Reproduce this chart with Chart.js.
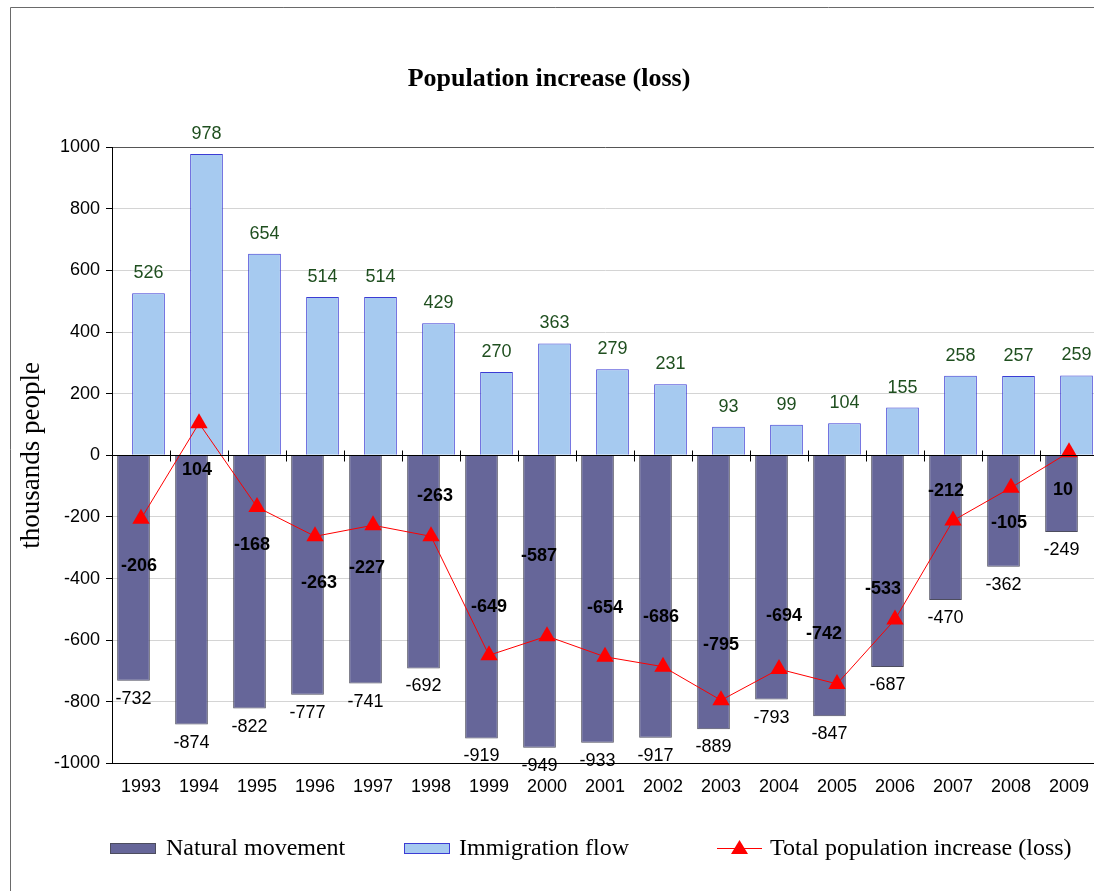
<!DOCTYPE html>
<html>
<head>
<meta charset="utf-8">
<script src="https://cdn.jsdelivr.net/npm/chart.js@4/dist/chart.umd.min.js"></script>
<style>
  html, body { margin: 0; padding: 0; background: #fff; overflow: hidden; }
  #c { display: block; }
</style>
</head>
<body>
<canvas id="c" width="1100" height="891" style="width:1100px;height:891px"></canvas>
<script>
const years = ['1993','1994','1995','1996','1997','1998','1999','2000','2001','2002','2003','2004','2005','2006','2007','2008','2009'];
const naturalMovement = [-732,-874,-822,-777,-741,-692,-919,-949,-933,-917,-889,-793,-847,-687,-470,-362,-249];
const immigrationFlow = [526,978,654,514,514,429,270,363,279,231,93,99,104,155,258,257,259];
const totalIncrease = [-206,104,-168,-263,-227,-263,-649,-587,-654,-686,-795,-694,-742,-533,-212,-105,10];
const seriesNames = ['Natural movement','Immigration flow','Total population increase (loss)'];
const chartTitle = 'Population increase (loss)';
const yAxisTitle = 'thousands people';

const SANS = '"Liberation Sans", Arial, sans-serif';
const SERIF = '"Liberation Serif", "Times New Roman", serif';
const C_NAT = '#666699', C_NAT_B = '#4d4d5e';
const C_IMM = '#a6caf0', C_IMM_B = '#3c3cd4';
const C_TOT = '#ff0000';
const C_IMM_LBL = '#1f4f1f';

// label offsets for the total series (relative to point)
const totalLabelOffsets = [[-2,47],[-2,47],[-5,38],[4,47],[-6,43],[4,-40],[0,-48],[-8,-80],[0,-49],[-2,-50],[0,-55],[5,-53],[-13,-50],[-12,-30],[-7,-30],[-2,35],[-6,38]];

const framePlugin = {
  id: 'frame',
  beforeDraw(chart) {
    const ctx = chart.ctx;
    ctx.save();
    ctx.fillStyle = '#fff';
    ctx.fillRect(0, 0, chart.width, chart.height);
    ctx.strokeStyle = '#6a6a6a';
    ctx.lineWidth = 1;
    ctx.beginPath();
    ctx.moveTo(10.5, chart.height + 2);
    ctx.lineTo(10.5, 7.5);
    ctx.lineTo(chart.width + 2, 7.5);
    ctx.stroke();
    ctx.restore();
  }
};

const zeroAxisPlugin = {
  id: 'zeroAxis',
  afterDatasetsDraw(chart) {
    const ctx = chart.ctx;
    const x = chart.scales.x, y = chart.scales.y;
    const y0 = Math.round(y.getPixelForValue(0)) + 0.5;
    ctx.save();
    ctx.strokeStyle = '#000';
    ctx.lineWidth = 1;
    ctx.beginPath();
    ctx.moveTo(chart.chartArea.left, y0);
    ctx.lineTo(chart.chartArea.right, y0);
    const n = years.length;
    for (let i = 0; i < n - 1; i++) {
      const xb = Math.round((x.getPixelForValue(i) + x.getPixelForValue(i + 1)) / 2) + 0.5;
      ctx.moveTo(xb, y0 - 5);
      ctx.lineTo(xb, y0 + 6);
    }
    ctx.stroke();
    ctx.restore();
  }
};

const labelPlugin = {
  id: 'valueLabels',
  afterDraw(chart) {
    const ctx = chart.ctx;
    ctx.save();
    ctx.textAlign = 'center';
    ctx.textBaseline = 'middle';
    const m0 = chart.getDatasetMeta(0);
    ctx.font = '18px ' + SANS;
    ctx.fillStyle = '#000';
    m0.data.forEach((el, i) => {
      ctx.fillText(String(naturalMovement[i]), el.x, el.y + 18);
    });
    const m1 = chart.getDatasetMeta(1);
    ctx.fillStyle = C_IMM_LBL;
    m1.data.forEach((el, i) => {
      ctx.fillText(String(immigrationFlow[i]), el.x, el.y - 20);
    });
    const m2 = chart.getDatasetMeta(2);
    ctx.font = 'bold 18px ' + SANS;
    ctx.fillStyle = '#000';
    m2.data.forEach((el, i) => {
      const o = totalLabelOffsets[i];
      ctx.fillText(String(totalIncrease[i]), el.x + o[0], el.y + o[1]);
    });
    ctx.restore();
  }
};

const legendPlugin = {
  id: 'customLegend',
  afterDraw(chart) {
    const ctx = chart.ctx;
    const cy = 849;
    ctx.save();
    ctx.font = '24px ' + SERIF;
    ctx.textBaseline = 'middle';
    ctx.textAlign = 'left';
    ctx.fillStyle = C_NAT; ctx.fillRect(110, 843, 45, 10);
    ctx.strokeStyle = C_NAT_B; ctx.lineWidth = 1; ctx.strokeRect(110.5, 843.5, 45, 10);
    ctx.fillStyle = '#000'; ctx.fillText(seriesNames[0], 166, cy);
    ctx.fillStyle = C_IMM; ctx.fillRect(404, 843, 45, 10);
    ctx.strokeStyle = C_IMM_B; ctx.strokeRect(404.5, 843.5, 45, 10);
    ctx.fillStyle = '#000'; ctx.fillText(seriesNames[1], 459, cy);
    ctx.strokeStyle = C_TOT; ctx.lineWidth = 1;
    ctx.beginPath(); ctx.moveTo(717, 848.5); ctx.lineTo(762, 848.5); ctx.stroke();
    ctx.fillStyle = C_TOT;
    ctx.beginPath(); ctx.moveTo(739.5, 840); ctx.lineTo(748, 854); ctx.lineTo(731, 854); ctx.closePath(); ctx.fill();
    ctx.fillStyle = '#000'; ctx.fillText(seriesNames[2], 770, cy);
    ctx.restore();
  }
};

new Chart(document.getElementById('c'), {
  type: 'bar',
  data: {
    labels: years,
    datasets: [
      {
        label: seriesNames[0],
        data: naturalMovement,
        backgroundColor: C_NAT,
        borderColor: C_NAT_B,
        borderWidth: 1,
        categoryPercentage: 0.517,
        barPercentage: 2.18,
        order: 2
      },
      {
        label: seriesNames[1],
        data: immigrationFlow,
        backgroundColor: C_IMM,
        borderColor: C_IMM_B,
        borderWidth: 1,
        categoryPercentage: 0.517,
        barPercentage: 2.18,
        order: 2
      },
      {
        type: 'line',
        label: seriesNames[2],
        data: totalIncrease,
        borderColor: C_TOT,
        backgroundColor: C_TOT,
        borderWidth: 1,
        pointStyle: 'triangle',
        pointRadius: 10,
        pointBorderWidth: 0,
        pointBackgroundColor: C_TOT,
        tension: 0,
        clip: false,
        order: 0
      }
    ]
  },
  options: {
    responsive: false,
    animation: false,
    layout: { autoPadding: false, padding: { left: 0, right: 2, top: 0, bottom: 80 } },
    plugins: {
      legend: { display: false },
      tooltip: { enabled: false },
      title: {
        display: true,
        text: chartTitle,
        color: '#000',
        font: { family: SERIF, size: 26, weight: 'bold' },
        padding: { top: 64, bottom: 52 }
      }
    },
    scales: {
      x: {
        afterFit(scale) { scale.paddingLeft = 0; scale.paddingRight = 0; },
        grid: { display: false, drawTicks: false },
        border: { display: true, color: '#000', width: 1 },
        ticks: { color: '#000', font: { family: SANS, size: 18 }, padding: 13, maxRotation: 0, autoSkip: false }
      },
      y: {
        min: -1000,
        max: 1000,
        afterFit(scale) { scale.width = 112; },
        ticks: {
          stepSize: 200,
          color: '#000',
          font: { family: SANS, size: 18 },
          padding: 6,
          callback: (v) => String(v)
        },
        grid: {
          color: (c) => (c.tick && c.tick.value === 1000) ? '#555' : '#d4d4d4',
          tickColor: '#000',
          tickLength: 6,
          lineWidth: 1
        },
        border: { display: true, color: '#000', width: 1 },
        title: {
          display: true,
          text: yAxisTitle,
          color: '#000',
          font: { family: SERIF, size: 27 },
          padding: { top: 16, bottom: 0 }
        }
      }
    }
  },
  plugins: [framePlugin, zeroAxisPlugin, labelPlugin, legendPlugin]
});
</script>
</body>
</html>
